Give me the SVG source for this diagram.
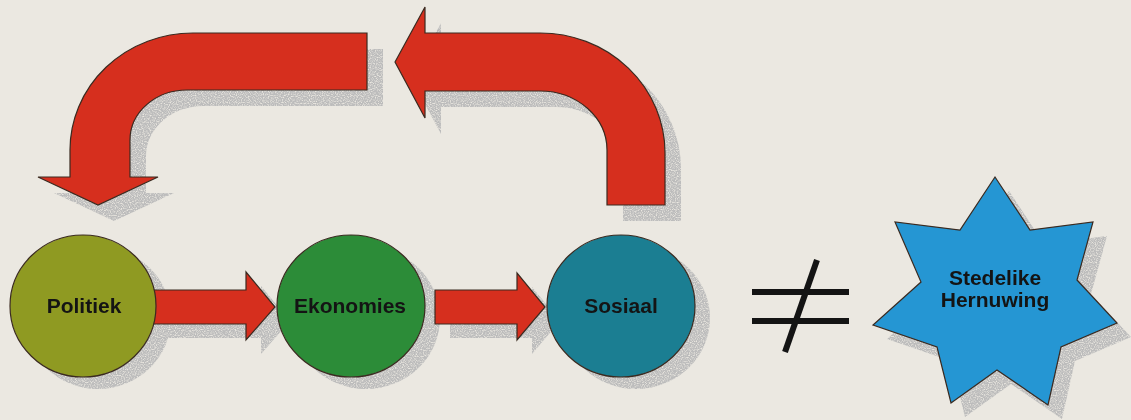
<svg xmlns="http://www.w3.org/2000/svg" xmlns:xlink="http://www.w3.org/1999/xlink" width="1131" height="420" viewBox="0 0 1131 420">
  <style>
    .shape { stroke: #3a2a20; stroke-width: 1.2; stroke-linejoin: miter; }
    .red { fill: #d62f1e; }
    .shadow { fill: #9c9a96; stroke: none; filter: url(#stip); }
    .label { font-family: "Liberation Sans", Arial, sans-serif; font-weight: bold; font-size: 21px; fill: #141414; text-anchor: middle; }
    .neq { stroke: #141414; stroke-width: 6; stroke-linecap: butt; fill: none; }
  </style>
  <defs>
    <filter id="stip" x="-5%" y="-5%" width="110%" height="110%">
      <feTurbulence type="fractalNoise" baseFrequency="0.85" numOctaves="1" seed="7" result="n"/>
      <feColorMatrix in="n" type="matrix" values="0 0 0 0 0.5  0 0 0 0 0.5  0 0 0 0 0.5  3.2 0 0 0 -0.8" result="dots"/>
      <feComposite in="dots" in2="SourceAlpha" operator="in"/>
    </filter>
    <path id="curveL" d="M367,33 L193,33 A123 117 0 0 0 70,150 L70,177 L38,177 L98,205 L158,177 L130,177 L130,140 A57 50 0 0 1 187,90 L367,90 Z"/>
    <path id="curveR" d="M395,62 L425,7 L425,33 L540,33 A125 120 0 0 1 665,153 L665,205 L607,205 L607,150 A67 59 0 0 0 540,91 L425,91 L425,118 Z"/>
    <path id="arr1" d="M150,290 L246,290 L246,272 L275,307 L246,340 L246,324 L150,324 Z"/>
    <path id="arr2" d="M435,290 L517,290 L517,273 L545,307 L517,340 L517,324 L435,324 Z"/>
    <ellipse id="c1" cx="83" cy="306" rx="73" ry="71"/>
    <ellipse id="c2" cx="351" cy="306" rx="74" ry="71"/>
    <ellipse id="c3" cx="621" cy="306" rx="74" ry="71"/>
    <polygon id="star" points="995,177 1030,230 1093,222 1077,280 1117,323 1061,347 1048,405 997,370 951,403 937,347 873,325 921,282 895,222 960,230"/>
  </defs>

  <rect width="1131" height="420" fill="#ebe8e1"/>

  <g id="shadows" class="shadow">
    <use xlink:href="#curveL" transform="translate(16,16)"/>
    <use xlink:href="#curveR" transform="translate(16,16)"/>
    <use xlink:href="#arr1" transform="translate(15,14)"/>
    <use xlink:href="#arr2" transform="translate(15,14)"/>
    <use xlink:href="#c1" transform="translate(15,12)"/>
    <use xlink:href="#c2" transform="translate(15,12)"/>
    <use xlink:href="#c3" transform="translate(15,12)"/>
    <use xlink:href="#star" transform="translate(14,14)"/>
  </g>

  <g id="connectors">
    <use xlink:href="#curveL" class="shape red"/>
    <use xlink:href="#curveR" class="shape red"/>
    <use xlink:href="#arr1" class="shape red"/>
    <use xlink:href="#arr2" class="shape red"/>
  </g>

  <g id="node-politiek">
    <use xlink:href="#c1" class="shape" fill="#8f9a22"/>
    <text class="label" x="84" y="313">Politiek</text>
  </g>
  <g id="node-ekonomies">
    <use xlink:href="#c2" class="shape" fill="#2c8c38"/>
    <text class="label" x="350" y="313">Ekonomies</text>
  </g>
  <g id="node-sosiaal">
    <use xlink:href="#c3" class="shape" fill="#1b7e92"/>
    <text class="label" x="621" y="313">Sosiaal</text>
  </g>

  <g id="not-equal">
    <line class="neq" x1="752" y1="292" x2="849" y2="292"/>
    <line class="neq" x1="752" y1="321" x2="849" y2="321"/>
    <line class="neq" x1="817" y1="260" x2="785" y2="352"/>
  </g>

  <g id="node-stedelike-hernuwing">
    <use xlink:href="#star" class="shape" fill="#2596d3"/>
    <text class="label" x="995" y="285">Stedelike</text>
    <text class="label" x="995" y="307">Hernuwing</text>
  </g>
</svg>
